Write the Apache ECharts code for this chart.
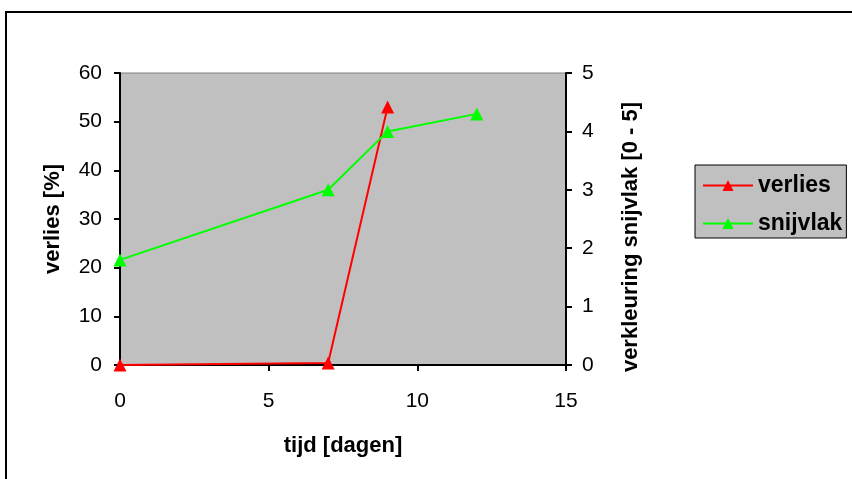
<!DOCTYPE html>
<html><head><meta charset="utf-8">
<script src="https://cdn.jsdelivr.net/npm/echarts@6/dist/echarts.min.js"></script>
<style>html,body{margin:0;padding:0;background:#fff}#c{width:852px;height:479px}</style>
</head><body><div id="c"></div>
<script>
const verliesX = [0, 7, 9];
const verliesY = [0, 0.4, 53];
const snijvlakX = [0, 7, 9, 12];
const snijvlakY = [1.8, 3.0, 4.0, 4.3];
const xTicks = [0, 5, 10, 15];
const leftTicks = [0, 10, 20, 30, 40, 50, 60];
const rightTicks = [0, 1, 2, 3, 4, 5];

const chart = echarts.init(document.getElementById('c'), null, {renderer: 'canvas'});
const font = 'Arial, "Liberation Sans", sans-serif';
const lbl = {color: '#000', fontSize: 21, fontFamily: font};
const nm = {color: '#000', fontSize: 22, fontWeight: 'bold', fontFamily: font};
chart.setOption({
  animation: false,
  backgroundColor: '#fff',
  graphic: [{
    type: 'rect', shape: {x: 6, y: 12, width: 900, height: 500},
    style: {fill: 'none', stroke: '#000', lineWidth: 2}, z: 100
  }],
  grid: {left: 120, right: 286, top: 73, bottom: 114, show: true, backgroundColor: '#C0C0C0', borderColor: '#808080', borderWidth: 1},
  legend: {
    left: 695, top: 165, orient: 'vertical',
    backgroundColor: '#C0C0C0', borderColor: '#000', borderWidth: 1,
    padding: [9, 4, 3, 7], itemWidth: 50, itemHeight: 14, itemGap: 15,
    textStyle: {color: '#000', fontSize: 23, fontWeight: 'bold', fontFamily: font},
    data: ['verlies', 'snijvlak']
  },
  xAxis: {
    type: 'value', min: xTicks[0], max: xTicks[xTicks.length - 1], interval: 5,
    name: 'tijd [dagen]', nameLocation: 'middle', nameGap: 70, nameTextStyle: nm,
    axisLine: {show: true, onZero: false, lineStyle: {color: '#000', width: 2}},
    axisTick: {show: true, inside: false, length: 6, lineStyle: {color: '#000', width: 2}},
    axisLabel: Object.assign({margin: 26}, lbl),
    splitLine: {show: false}
  },
  yAxis: [{
    type: 'value', min: leftTicks[0], max: leftTicks[leftTicks.length - 1], interval: 10,
    name: 'verlies [%]', nameLocation: 'middle', nameGap: 56, nameTextStyle: nm,
    axisLine: {show: true, lineStyle: {color: '#000', width: 2}},
    axisTick: {show: true, length: 6, lineStyle: {color: '#000', width: 2}},
    axisLabel: Object.assign({margin: 18}, lbl),
    splitLine: {show: false}
  }, {
    type: 'value', min: rightTicks[0], max: rightTicks[rightTicks.length - 1], interval: 1,
    name: 'verkleuring snijvlak [0 - 5]', nameLocation: 'middle', nameGap: 54,
    nameTextStyle: Object.assign({padding: [0, 36, 0, 0]}, nm),
    position: 'right',
    axisLine: {show: true, lineStyle: {color: '#000', width: 2}},
    axisTick: {show: true, length: 6, lineStyle: {color: '#000', width: 2}},
    axisLabel: Object.assign({margin: 16}, lbl),
    splitLine: {show: false}
  }],
  series: [{
    name: 'verlies', type: 'line', yAxisIndex: 0,
    data: verliesX.map((x, i) => [x, verliesY[i]]),
    symbol: 'triangle', symbolSize: 13,
    lineStyle: {color: '#FF0000', width: 2}, itemStyle: {color: '#FF0000'}
  }, {
    name: 'snijvlak', type: 'line', yAxisIndex: 1,
    data: snijvlakX.map((x, i) => [x, snijvlakY[i]]),
    symbol: 'triangle', symbolSize: 13,
    lineStyle: {color: '#00FF00', width: 2}, itemStyle: {color: '#00FF00'}
  }]
});
</script></body></html>
